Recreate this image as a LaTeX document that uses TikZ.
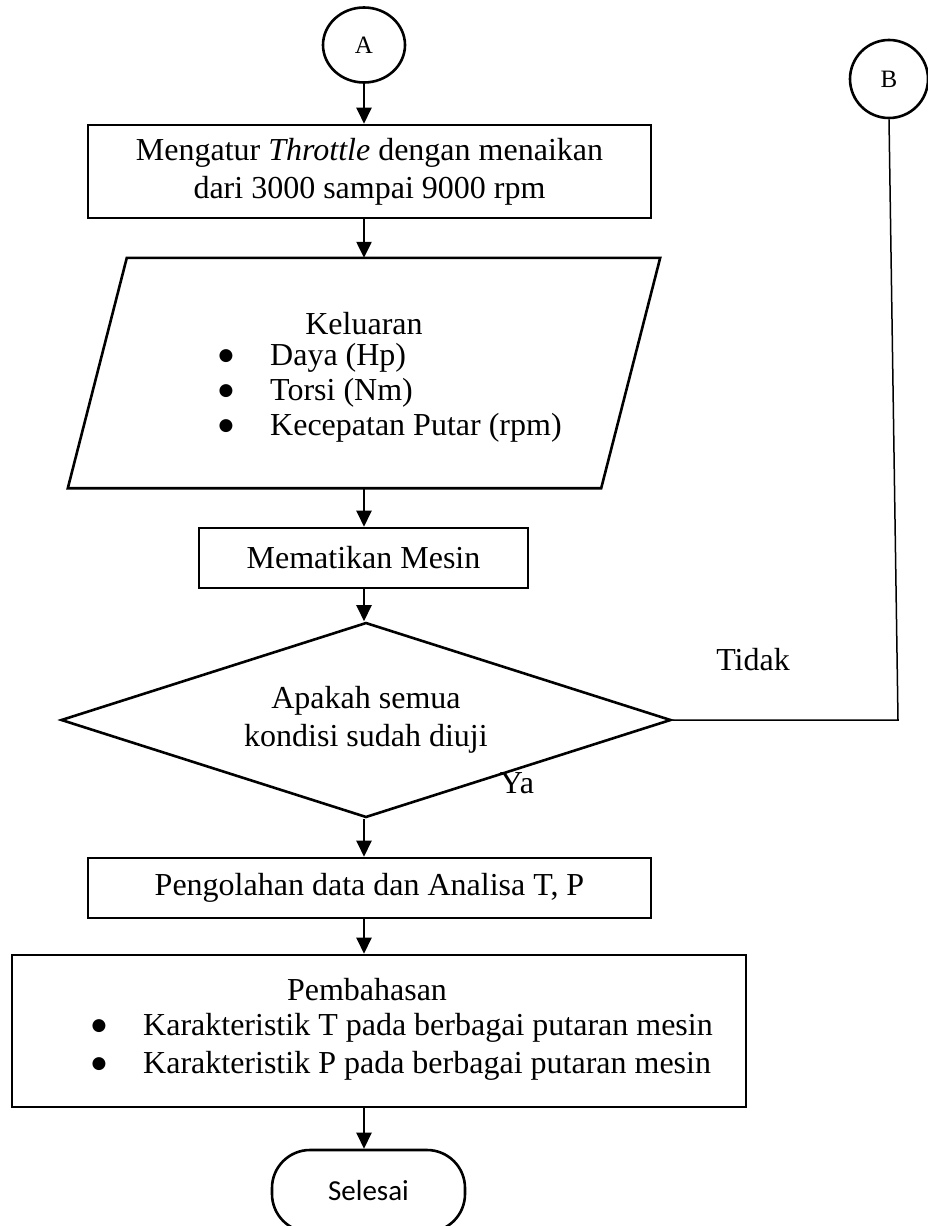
\documentclass[tikz,border=0pt]{standalone}
\usepackage{fontspec}
\setmainfont{Liberation Serif}
\newfontfamily\selfont{Carlito}
\newfontfamily\dejavu{DejaVu Sans}
\usetikzlibrary{arrows.meta,shapes.geometric}
\begin{document}
\begin{tikzpicture}[x=1pt,y=-1pt,
  every node/.style={font=\fontsize{32}{38}\selectfont, inner sep=0pt, align=center},
  proc/.style={draw, rectangle, line width=2.6pt},
  conn/.style={draw, ellipse, line width=2.6pt, font=\fontsize{25}{28}\selectfont},
  shapeline/.style={line width=2.6pt},
  flow/.style={-{Triangle[length=16pt,width=15pt]}, line width=2.4pt},
  link/.style={line width=1.5pt},
  bul/.style={font=\dejavu\fontsize{17}{17}\selectfont},
  itm/.style={anchor=west}
]
\useasboundingbox (0,0) rectangle (928,1226);

% connectors A and B
\node[conn, minimum width=82pt, minimum height=75pt] (A) at (364,45) {A};
\node[conn, minimum width=78pt, minimum height=78pt] (B) at (889,79) {B};

% box 1
\node[proc, minimum width=563pt, minimum height=93pt] (b1) at (369.5,171.5)
  {Mengatur \textit{Throttle} dengan menaikan\\dari 3000 sampai 9000 rpm};

% parallelogram (output)
\node[minimum width=592pt, minimum height=230pt] (para) at (364,373) {};
\draw[shapeline] ([xshift=59pt]para.north west) -- (para.north east)
  -- ([xshift=-59pt]para.south east) -- (para.south west) -- cycle;
\node (kel) at (364,324) {Keluaran};
\node[bul] (pb1) at (226,356) {●};
\node[bul] (pb2) at (226,391) {●};
\node[bul] (pb3) at (226,426) {●};
\node[itm] (pt1) at (270,358) {Daya (Hp)};
\node[itm] (pt2) at (270,393) {Torsi (Nm)};
\node[itm] (pt3) at (270,428) {Kecepatan Putar (rpm)};

% box 2
\node[proc, minimum width=329pt, minimum height=60pt] (b2) at (363.5,558) {Mematikan Mesin};

% decision
\node[draw, diamond, shapeline, aspect=3.13, minimum width=610pt, minimum height=195pt] (dia) at (366,720)
  {Apakah semua\\kondisi sudah diuji};
\node (tidak) at (753,660) {Tidak};
\node (ya) at (517,783) {Ya};

% box 3
\node[proc, minimum width=563pt, minimum height=60pt] (b3) at (369.5,888) {Pengolahan data dan Analisa T, P};

% box 4
\node[proc, minimum width=734pt, minimum height=152pt] (b4) at (379,1031) {};
\node (pem) at (367,990) {Pembahasan};
\node[bul] (qb1) at (99,1026) {●};
\node[bul] (qb2) at (99,1064) {●};
\node[itm] (qt1) at (143,1028) {Karakteristik T pada berbagai putaran mesin};
\node[itm] (qt2) at (143,1066) {Karakteristik P pada berbagai putaran mesin};

% terminator
\node[draw, rectangle, rounded corners=38pt, shapeline, minimum width=193pt, minimum height=82pt,
  font=\selfont\fontsize{29}{32}\selectfont] (end) at (368.5,1191) {Selesai};

% flow arrows
\draw[flow] (A.south) -- (A.south |- b1.north);
\draw[flow] (b1.south -| A.south) -- (A.south |- para.north);
\draw[flow] (para.south -| A.south) -- (A.south |- b2.north);
\draw[flow] (b2.south -| A.south) -- (dia.north -| A.south);
\draw[flow] (dia.south -| A.south) -- (A.south |- b3.north);
\draw[flow] (b3.south -| A.south) -- (A.south |- b4.north);
\draw[flow] (b4.south -| A.south) -- (A.south |- end.north);

% Tidak line to B
\coordinate (bc) at (898,720);
\draw[link] (dia.east) -- (bc) -- (B.south);
\end{tikzpicture}
\end{document}
